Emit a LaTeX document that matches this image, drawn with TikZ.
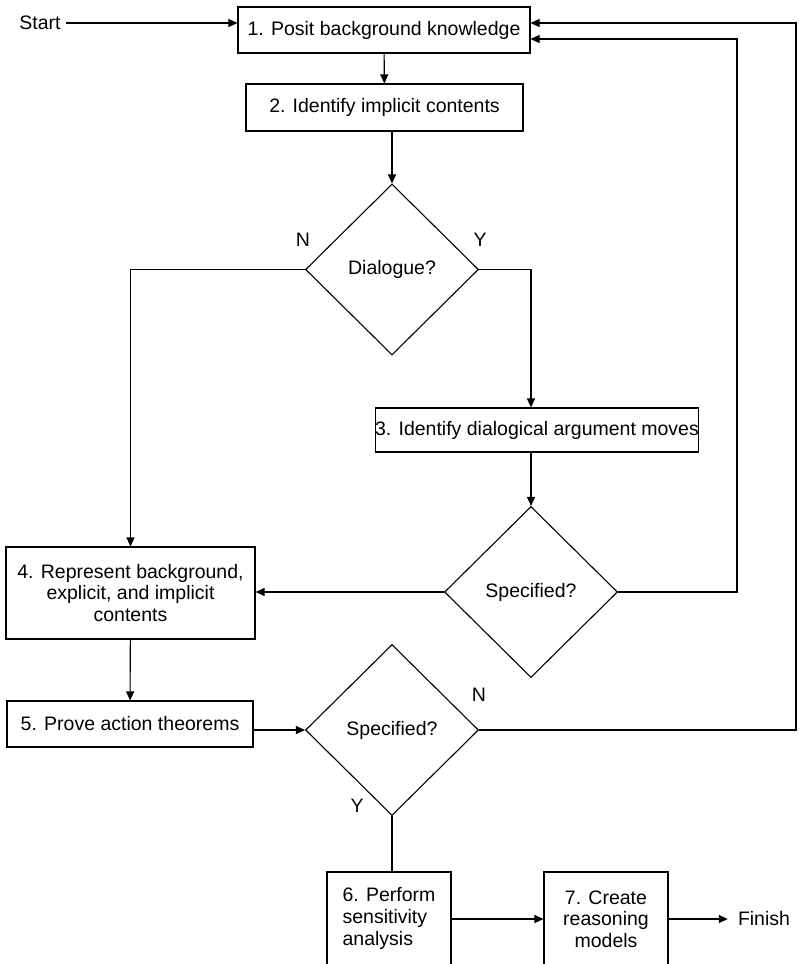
\documentclass[tikz,border=0pt]{standalone}
\usepackage{fontspec}
\setmainfont{Liberation Sans}
\usetikzlibrary{shapes.geometric,arrows.meta}
\tikzset{
  base/.style={font=\fontsize{19.5}{21.7}\selectfont},
  box/.style={base,draw,line width=1.1pt,inner sep=0pt,align=center},
  dec/.style={base,draw,diamond,line width=1.1pt,inner sep=0pt,minimum width=173pt,minimum height=171pt},
  lbl/.style={base,inner sep=1pt},
  arr/.style={line width=1.1pt,-{Triangle[length=9pt,width=8pt]}},
  ln/.style={line width=1.1pt}
}
\begin{document}
\begin{tikzpicture}[x=1pt,y=-1pt]
\clip (0,0) rectangle (799,964);
\fill[white] (0,0) rectangle (799,964);
% boxes
\node[box,minimum width=292pt,minimum height=46pt] (b1) at (384,30) {1. Posit background knowledge};
\node[box,minimum width=277pt,minimum height=47pt] (b2) at (384.5,107.5) {2. Identify implicit contents};
\node[dec] (d1) at (392,269.5) {Dialogue?};
\node[box,minimum width=322pt,minimum height=44pt] (b3) at (537,430) {3. Identify dialogical argument moves};
\node[dec] (d2) at (531,592) {Specified?};
\node[box,minimum width=249pt,minimum height=92pt] (b4) at (130.5,593) {4. Represent background,\\explicit, and implicit\\contents};
\node[box,minimum width=246pt,minimum height=46pt] (b5) at (130,724) {5. Prove action theorems};
\node[dec] (d3) at (392,730) {Specified?};
\node[box,line width=2pt,minimum width=124pt,minimum height=94pt] (b6) at (389,919) {\begin{tabular}{@{}l@{}}6. Perform\\sensitivity\\analysis\end{tabular}};
\node[box,minimum width=124pt,minimum height=94pt] (b7) at (606,919) {7. Create\\reasoning\\models};
% labels
\node[lbl] (start) at (40,23) {Start};
\node[lbl] (finish) at (764,919) {Finish};
\node[lbl] (n1) at (303,240) {N};
\node[lbl] (y1) at (480,240) {Y};
\node[lbl] (n3) at (479,695) {N};
\node[lbl] (y3) at (357,806) {Y};
\coordinate (r1) at (737,39);
\coordinate (r2) at (796,23);
% connectors
\draw[arr] ([xshift=4pt]start.east) -- (start -| b1.west);
\draw[arr] (b1) -- (b2);
\draw[arr] (b2.south -| d1.north) -- (d1.north);
\draw[arr] (d1.west) -| (b4.north);
\draw[arr] (d1.east) -| (b3.north -| d2.north);
\draw[arr] (b3.south -| d2.north) -- (d2.north);
\draw[arr] (d2.west) -- (d2.west -| b4.east);
\draw[arr] (d2.east) -| (r1) -- (r1 -| b1.east);
\draw[arr] (b4) -- (b5);
\draw[arr] (d3.west -| b5.east) -- (d3.west);
\draw[arr] (d3.east) -| (r2) -- (r2 -| b1.east);
\draw[line width=2pt] (d3.south) -- (d3.south |- b6.north);
\draw[arr] (b6) -- (b7);
\draw[arr] (b7) -- ([xshift=-9pt]finish.west);
\end{tikzpicture}
\end{document}
